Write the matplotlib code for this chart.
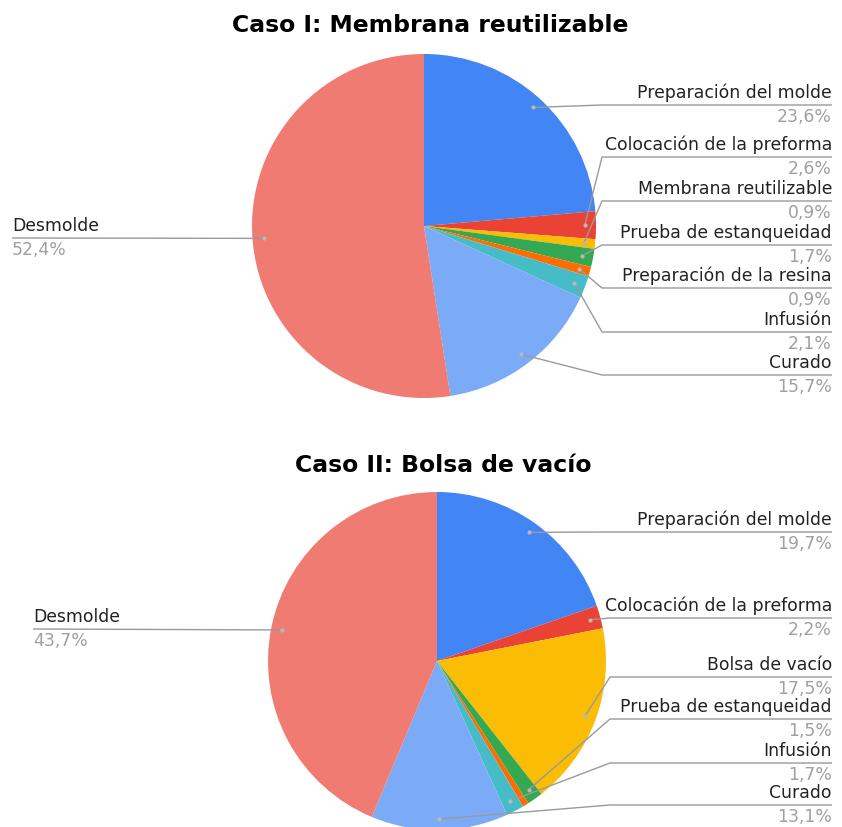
import numpy as np
import matplotlib
matplotlib.use("Agg")
import matplotlib.pyplot as plt

W, H = 842, 827

# ---- data ----
categories_1 = ["Preparación del molde", "Colocación de la preforma", "Membrana reutilizable",
                "Prueba de estanqueidad", "Preparación de la resina", "Infusión", "Curado", "Desmolde"]
values_1 = [23.6, 2.6, 0.9, 1.7, 0.9, 2.1, 15.7, 52.4]
colors_1 = ["#4285F4", "#EA4335", "#FBBC04", "#34A853", "#FF6D01", "#46BDC6", "#7BAAF7", "#F07B72"]
title_1 = "Caso I: Membrana reutilizable"

categories_2 = ["Preparación del molde", "Colocación de la preforma", "Bolsa de vacío",
                "Prueba de estanqueidad", "Preparación de la resina", "Infusión", "Curado", "Desmolde"]
values_2 = [19.7, 2.2, 17.5, 1.5, 0.6, 1.7, 13.1, 43.7]
colors_2 = ["#4285F4", "#EA4335", "#FBBC04", "#34A853", "#FF6D01", "#46BDC6", "#7BAAF7", "#F07B72"]
shown_2 = [True, True, True, True, False, True, True, True]
title_2 = "Caso II: Bolsa de vacío"

LABEL_FONT = ["DejaVu Sans"]
TITLE_FONT = ["DejaVu Sans"]
LABEL_SIZE = 12.4
plt.rcParams['font.family'] = ["DejaVu Sans"]

fig = plt.figure(figsize=(W / 100, H / 100), dpi=100)
ax = fig.add_axes([0, 0, 1, 1])


def fmt(v):
    return f"{v:.1f}".replace(".", ",") + "%"


def draw_pie(values, colors, cats, shown, center_img, r, title, title_y,
             right_lines, elbow_x, left_line, left_x, right_x=832):
    cx, cy = center_img[0], H - center_img[1]
    ax.pie(values, colors=colors, startangle=90, counterclock=False,
           center=(cx, cy), radius=r, wedgeprops=dict(linewidth=0))
    ax.text(cx + 6, H - title_y, title, ha="center", va="center", family=TITLE_FONT,
            fontsize=16.9, fontweight="bold", color="#000000")
    total = sum(values)
    cum = np.cumsum([0] + list(values))
    mids = [90 - 360 * (cum[i] + values[i] / 2) / total for i in range(len(values))]
    ri = 0
    for i, cat in enumerate(cats):
        if not shown[i]:
            continue
        a = np.deg2rad(mids[i])
        dx, dy = cx + 0.935 * r * np.cos(a), cy + 0.935 * r * np.sin(a)
        if i == len(cats) - 1:
            ly = H - left_line
            ax.plot([dx, left_x], [dy, ly], color="#9a9a9a", lw=1, solid_capstyle="butt")
            ax.text(left_x, ly + 12, cat, ha="left", va="center", fontsize=LABEL_SIZE,
                    family=LABEL_FONT, color="#222222")
            ax.text(left_x, ly - 12, fmt(values[i]), ha="left", va="center", fontsize=LABEL_SIZE,
                    family=LABEL_FONT, color="#a0a0a0")
        else:
            ly = H - right_lines[ri]
            ex = max(elbow_x, dx)
            ax.plot([dx, ex, right_x], [dy, ly, ly], color="#9a9a9a", lw=1, solid_capstyle="butt")
            ax.text(right_x, ly + 12, cat, ha="right", va="center", fontsize=LABEL_SIZE,
                    family=LABEL_FONT, color="#222222")
            ax.text(right_x, ly - 12, fmt(values[i]), ha="right", va="center", fontsize=LABEL_SIZE,
                    family=LABEL_FONT, color="#a0a0a0")
            ri += 1
        ax.plot([dx], [dy], "o", ms=3, color="#b8b8b8", mec="none")


draw_pie(values_1, colors_1, categories_1, [True] * 8, (424, 226), 172, title_1, 26,
         [105, 157, 201, 245, 288, 332, 375], 602, 238, 12)
draw_pie(values_2, colors_2, categories_2, shown_2, (437, 661), 169, title_2, 466,
         [532, 618, 677, 719, 763, 805], 610, 629, 33)

ax.set_xlim(0, W)
ax.set_ylim(0, H)
ax.set_aspect("auto")
ax.axis("off")
fig.savefig("out.png", dpi=100, facecolor="white")
